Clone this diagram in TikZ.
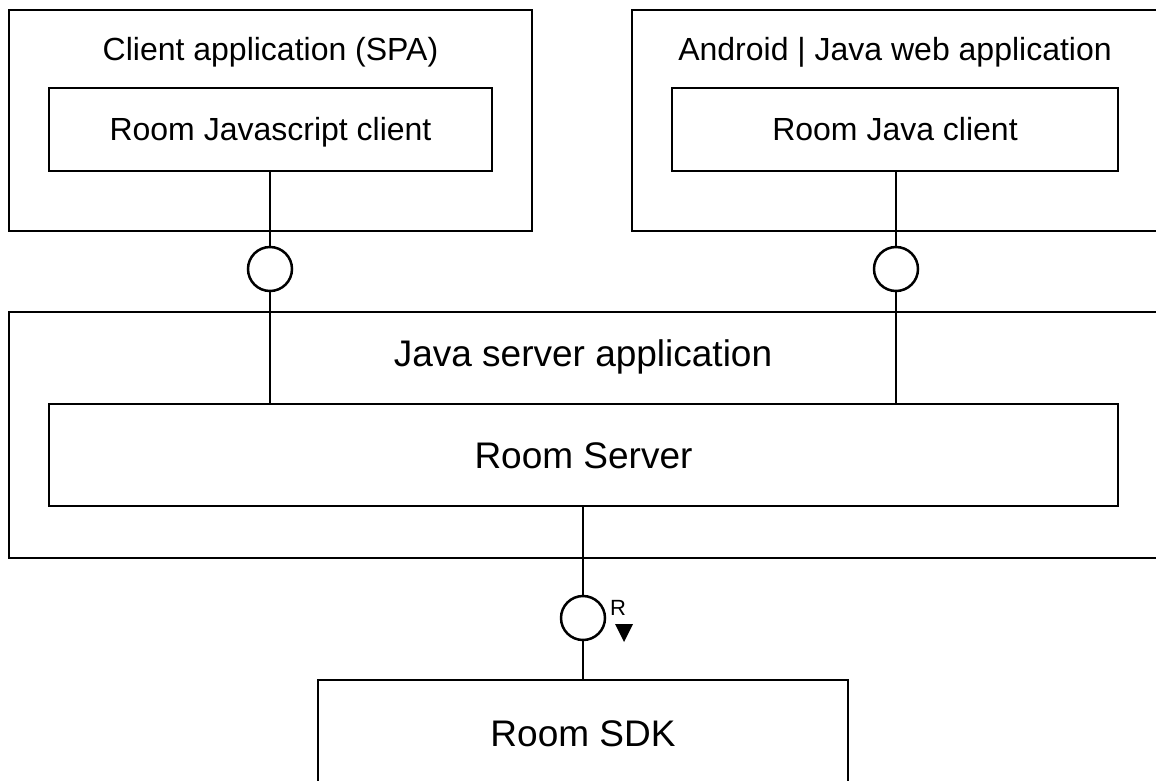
\documentclass[tikz,border=0pt]{standalone}
\usepackage{fontspec}
\setmainfont{Liberation Sans}
\begin{document}
\begin{tikzpicture}[x=1pt,y=-1pt,
  box/.style={draw, rectangle, line width=2.8pt, inner sep=0pt, outer sep=0pt},
  lbl/.style={font=\fontsize{32}{38}\selectfont, anchor=base, inner sep=0pt},
  biglbl/.style={font=\fontsize{37}{44}\selectfont, anchor=base, inner sep=0pt},
  wire/.style={line width=1.3pt},
  iface/.style={circle, draw, line width=2.5pt, minimum size=44pt, inner sep=0pt, outer sep=0pt}]
\useasboundingbox (0,0) rectangle (1156,780);
\clip (0,0) rectangle (1156,780);

% client side: single page application
\node[box, minimum width=523pt, minimum height=221pt] (clientapp) at (270.5,120.5) {};
\node[lbl] (clientapptitle) at (270.5,60) {Client application (SPA)};
\node[box, minimum width=443pt, minimum height=83pt] (jsclient) at (270.5,129.5) {};
\node[lbl] (jsclientlbl) at (270.5,140) {Room Javascript client};

% client side: Android / Java web application
\node[box, minimum width=526pt, minimum height=221pt] (androidapp) at (895,120.5) {};
\node[lbl] (androidapptitle) at (895,60) {Android | Java web application};
\node[box, minimum width=446pt, minimum height=83pt] (javaclient) at (895,129.5) {};
\node[lbl] (javaclientlbl) at (895,140) {Room Java client};

% server application
\node[box, minimum width=1149pt, minimum height=246pt] (serverapp) at (583.5,435) {};
\node[biglbl] (serverapptitle) at (583,366) {Java server application};
\node[box, minimum width=1069pt, minimum height=102pt] (roomserver) at (583.5,455) {};
\node[biglbl] (roomserverlbl) at (583.5,468) {Room Server};

% SDK
\node[box, minimum width=530pt, minimum height=124pt] (sdk) at (583,742) {};
\node[biglbl] (sdklbl) at (583,746) {Room SDK};

% provided interfaces
\node[iface] (ifjs) at (270,269) {};
\node[iface] (ifjava) at (896,269) {};
\node[iface] (ifsdk) at (583,618) {};

% connectors
\draw[wire] (ifjs |- jsclient.south) -- (ifjs.north);
\draw[wire] (ifjs.south) -- (ifjs |- roomserver.north);
\draw[wire] (ifjava |- javaclient.south) -- (ifjava.north);
\draw[wire] (ifjava.south) -- (ifjava |- roomserver.north);
\draw[wire] (ifsdk |- roomserver.south) -- (ifsdk.north);
\draw[wire] (ifsdk.south) -- (ifsdk |- sdk.north);

% required-interface marker
\node[font=\fontsize{22}{26}\selectfont, anchor=base, inner sep=0pt] (rlabel) at (618,615) {R};
\fill (615,624) -- (633,624) -- (624,642) -- cycle;
\end{tikzpicture}
\end{document}
